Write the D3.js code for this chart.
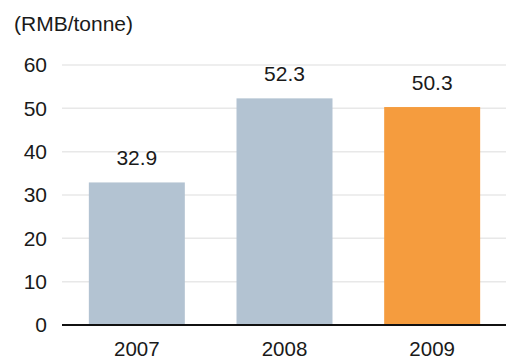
<!DOCTYPE html>
<html>
<head>
<meta charset="utf-8">
<script src="https://cdn.jsdelivr.net/npm/d3@7"></script>
<style>
  html, body { margin: 0; padding: 0; background: #ffffff; }
  svg { display: block; font-family: "Liberation Sans", Arial, sans-serif; }
</style>
</head>
<body>
<svg id="chart" width="506" height="360"></svg>
<script>
// Average price per tonne, by year
const years = ["2007", "2008", "2009"];
const prices = [32.9, 52.3, 50.3];
const barColors = ["#b3c3d2", "#b3c3d2", "#f59c3e"];
const yTicks = [0, 10, 20, 30, 40, 50, 60];
const unitLabel = "(RMB/tonne)";

(function draw() {
  const svg = d3.select("#chart");
  const plotLeft = 62, plotRight = 506, plotTop = 65, plotBottom = 325;

  const x = d3.scaleBand()
    .domain(years)
    .range([plotLeft + 1, plotRight])
    .paddingInner(0.35)
    .paddingOuter(0.175);

  const y = d3.scaleLinear()
    .domain([0, 60])
    .range([plotBottom, plotTop]);

  // horizontal gridlines
  svg.append("g")
    .selectAll("line")
    .data(yTicks.filter(d => d > 0))
    .join("line")
    .attr("x1", plotLeft)
    .attr("x2", plotRight)
    .attr("y1", d => y(d))
    .attr("y2", d => y(d))
    .attr("stroke", "#e8e8e8")
    .attr("stroke-width", 1.5);

  // y-axis tick labels
  const yAxis = d3.axisLeft(y).tickValues(yTicks).tickSize(0).tickPadding(0);
  const gy = svg.append("g")
    .attr("transform", `translate(${plotLeft - 15},0)`)
    .call(yAxis);
  gy.select(".domain").remove();
  gy.selectAll("text")
    .attr("font-size", 21)
    .attr("fill", "#1a1a1a")
    .attr("font-family", "Liberation Sans, Arial, sans-serif");

  // bars
  svg.append("g")
    .selectAll("rect")
    .data(years)
    .join("rect")
    .attr("x", d => x(d))
    .attr("width", x.bandwidth())
    .attr("y", (d, i) => y(prices[i]))
    .attr("height", (d, i) => y(0) - y(prices[i]))
    .attr("fill", (d, i) => barColors[i]);

  // value labels above bars
  svg.append("g")
    .selectAll("text")
    .data(years)
    .join("text")
    .attr("x", d => x(d) + x.bandwidth() / 2)
    .attr("y", (d, i) => y(prices[i]) - 17)
    .attr("text-anchor", "middle")
    .attr("font-size", 21)
    .attr("fill", "#1a1a1a")
    .text((d, i) => prices[i].toFixed(1));

  // x axis baseline and category labels
  const xAxis = d3.axisBottom(x).tickSize(0).tickPadding(0);
  const gx = svg.append("g")
    .attr("transform", `translate(0,${plotBottom})`)
    .call(xAxis);
  gx.select(".domain")
    .attr("d", `M${plotLeft},0H${plotRight}`)
    .attr("stroke", "#111")
    .attr("stroke-width", 2);
  gx.selectAll("text")
    .attr("font-size", 20.5)
    .attr("fill", "#1a1a1a")
    .attr("font-family", "Liberation Sans, Arial, sans-serif")
    .attr("dy", null)
    .attr("y", 31);

  // unit label
  svg.append("text")
    .attr("x", 14)
    .attr("y", 31)
    .attr("font-size", 21)
    .attr("fill", "#1a1a1a")
    .text(unitLabel);
})();
</script>
</body>
</html>
